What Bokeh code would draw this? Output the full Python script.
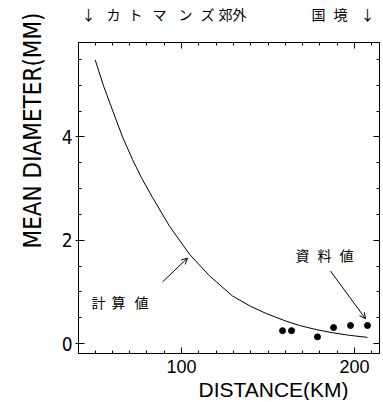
from bokeh.plotting import figure
from bokeh.models import Range1d, LinearAxis, FixedTicker, Label, Arrow, OpenHead, Title
from bokeh.embed import file_html
from bokeh.resources import INLINE

# ---- data ----
# computed curve (計算値)
curve_x = [50.1, 55.0, 60.1, 65.9, 71.7, 77.0, 83.2, 93.1, 104.6, 116.2, 129.5, 140.0, 149.1, 160.0, 168.2, 178.0, 187.3, 197.0, 207.5]
curve_y = [5.49, 4.98, 4.52, 4.00, 3.56, 3.20, 2.83, 2.27, 1.73, 1.31, 0.92, 0.72, 0.58, 0.44, 0.35, 0.27, 0.21, 0.16, 0.12]
# observed values (資料値)
obs_x = [158.4, 163.6, 178.6, 187.9, 197.7, 207.5]
obs_y = [0.25, 0.25, 0.13, 0.31, 0.35, 0.35]

x_major = [100, 200]
x_minor = [50, 60, 70, 80, 90, 110, 120, 130, 140, 150, 160, 170, 180, 190, 210]
y_major = [0, 2, 4]
y_minor = [0.5, 1, 1.5, 2.5, 3, 3.5, 4.5, 5, 5.5]

x_title = "DISTANCE(KM)"
y_title = "MEAN DIAMETER(MM)"
top_left_text = "↓カトマンズ郊外"
top_right_text = "国境↓"
calc_text = "計算値"
data_text = "資料値"

# ---- layout (canvas pixel geometry) ----
W, H = 382, 400
X0, X1 = 40.46, 214.45
Y0, Y1 = -0.192, 5.827
FL, FR, FT, FB = 78, 379, 42, 355


def px_x(px):
    return round(X0 + (px - FL) / (FR - FL) * (X1 - X0), 3)


def px_y(py):
    return Y0 + (FB - py) / (FB - FT) * (Y1 - Y0)


p = figure(width=W, height=H, output_backend="svg", toolbar_location=None,
           x_range=Range1d(X0, X1), y_range=Range1d(Y0, Y1),
           min_border_left=FL, min_border_right=W - FR, min_border_top=FT, min_border_bottom=H - FB,
           background_fill_color="white", border_fill_color="white")
p.grid.visible = False
p.outline_line_color = "black"

TICK_FONT = "Liberation Sans"
NARROW = "'Liberation Sans Narrow', 'DejaVu Sans Condensed', 'Liberation Sans'"

for ax in p.xaxis:
    ax.ticker = FixedTicker(ticks=x_major, minor_ticks=x_minor)
    ax.major_tick_in = 6
    ax.major_tick_out = 0
    ax.minor_tick_in = 3
    ax.minor_tick_out = 0
    ax.axis_line_color = "black"
    ax.major_label_text_font = TICK_FONT
    ax.major_label_text_font_size = "18px"
    ax.major_label_text_color = "black"
    ax.major_label_standoff = 6

for ax in p.yaxis:
    ax.ticker = FixedTicker(ticks=y_major, minor_ticks=y_minor)
    ax.major_tick_in = 6
    ax.major_tick_out = 3
    ax.minor_tick_in = 3
    ax.minor_tick_out = 0
    ax.axis_line_color = "black"
    ax.major_label_text_font = NARROW
    ax.major_label_text_font_size = "19px"
    ax.major_label_text_color = "black"
    ax.major_label_standoff = 3

# frame axes on top and right (ticks only, labels hidden)
top = LinearAxis(ticker=FixedTicker(ticks=x_major, minor_ticks=x_minor),
                 major_tick_in=6, major_tick_out=0, minor_tick_in=3, minor_tick_out=0,
                 major_label_text_font_size="1px", major_label_text_color=None,
                 major_label_standoff=0, axis_line_color="black")
right = LinearAxis(ticker=FixedTicker(ticks=y_major, minor_ticks=y_minor),
                   major_tick_in=6, major_tick_out=0, minor_tick_in=3, minor_tick_out=0,
                   major_label_text_font_size="1px", major_label_text_color=None,
                   major_label_standoff=0, axis_line_color="black")
p.add_layout(top, "above")
p.add_layout(right, "right")

# header text above the frame, placed character by character
JP = "Noto Sans CJK JP"
head_chars = list(top_left_text) + list(top_right_text)
head_px = [88, 113, 135, 159, 185, 207, 225, 239, 318, 340, 367]
head_ticks = [px_x(v) for v in head_px]
head = LinearAxis(ticker=FixedTicker(ticks=head_ticks, minor_ticks=[]),
                  major_label_overrides={t: c for t, c in zip(head_ticks, head_chars)},
                  major_tick_in=0, major_tick_out=0, minor_tick_in=0, minor_tick_out=0,
                  axis_line_color=None, major_tick_line_color=None, minor_tick_line_color=None,
                  major_label_text_font=JP, major_label_text_font_size="14px",
                  major_label_text_color="black", major_label_standoff=19)
p.add_layout(head, "above")

# axis titles
p.add_layout(Title(text=x_title, align="left", offset=120, text_font=TICK_FONT,
                   text_font_size="21px", text_font_style="normal", text_color="black",
                   standoff=0), "below")
p.add_layout(Title(text=y_title, align="left", offset=105, text_font=NARROW,
                   text_font_size="24px", text_font_style="normal", text_color="black",
                   standoff=24), "left")

# curve and points
p.line(curve_x, curve_y, line_color="black", line_width=1)
p.scatter(obs_x, obs_y, size=6, color="black")


def chars(text, centers, cy, size):
    for ch, cx in zip(text, centers):
        p.add_layout(Label(x=px_x(cx), y=px_y(cy), text=ch, text_font=JP, text_font_size=size,
                           text_align="center", text_baseline="middle", text_color="black"))


chars(calc_text, [98, 118, 141], 303, "14px")
chars(data_text, [302, 324, 346], 256, "14px")


def arrow(x0, y0, x1, y1, size=6):
    p.add_layout(Arrow(end=OpenHead(size=size, line_width=1, line_color="black"),
                       x_start=px_x(x0), y_start=px_y(y0), x_end=px_x(x1), y_end=px_y(y1),
                       line_width=1, line_color="black"))


arrow(162, 283, 187, 259)
arrow(330, 272, 365, 320)

open("out.html", "w").write(file_html(p, INLINE))
